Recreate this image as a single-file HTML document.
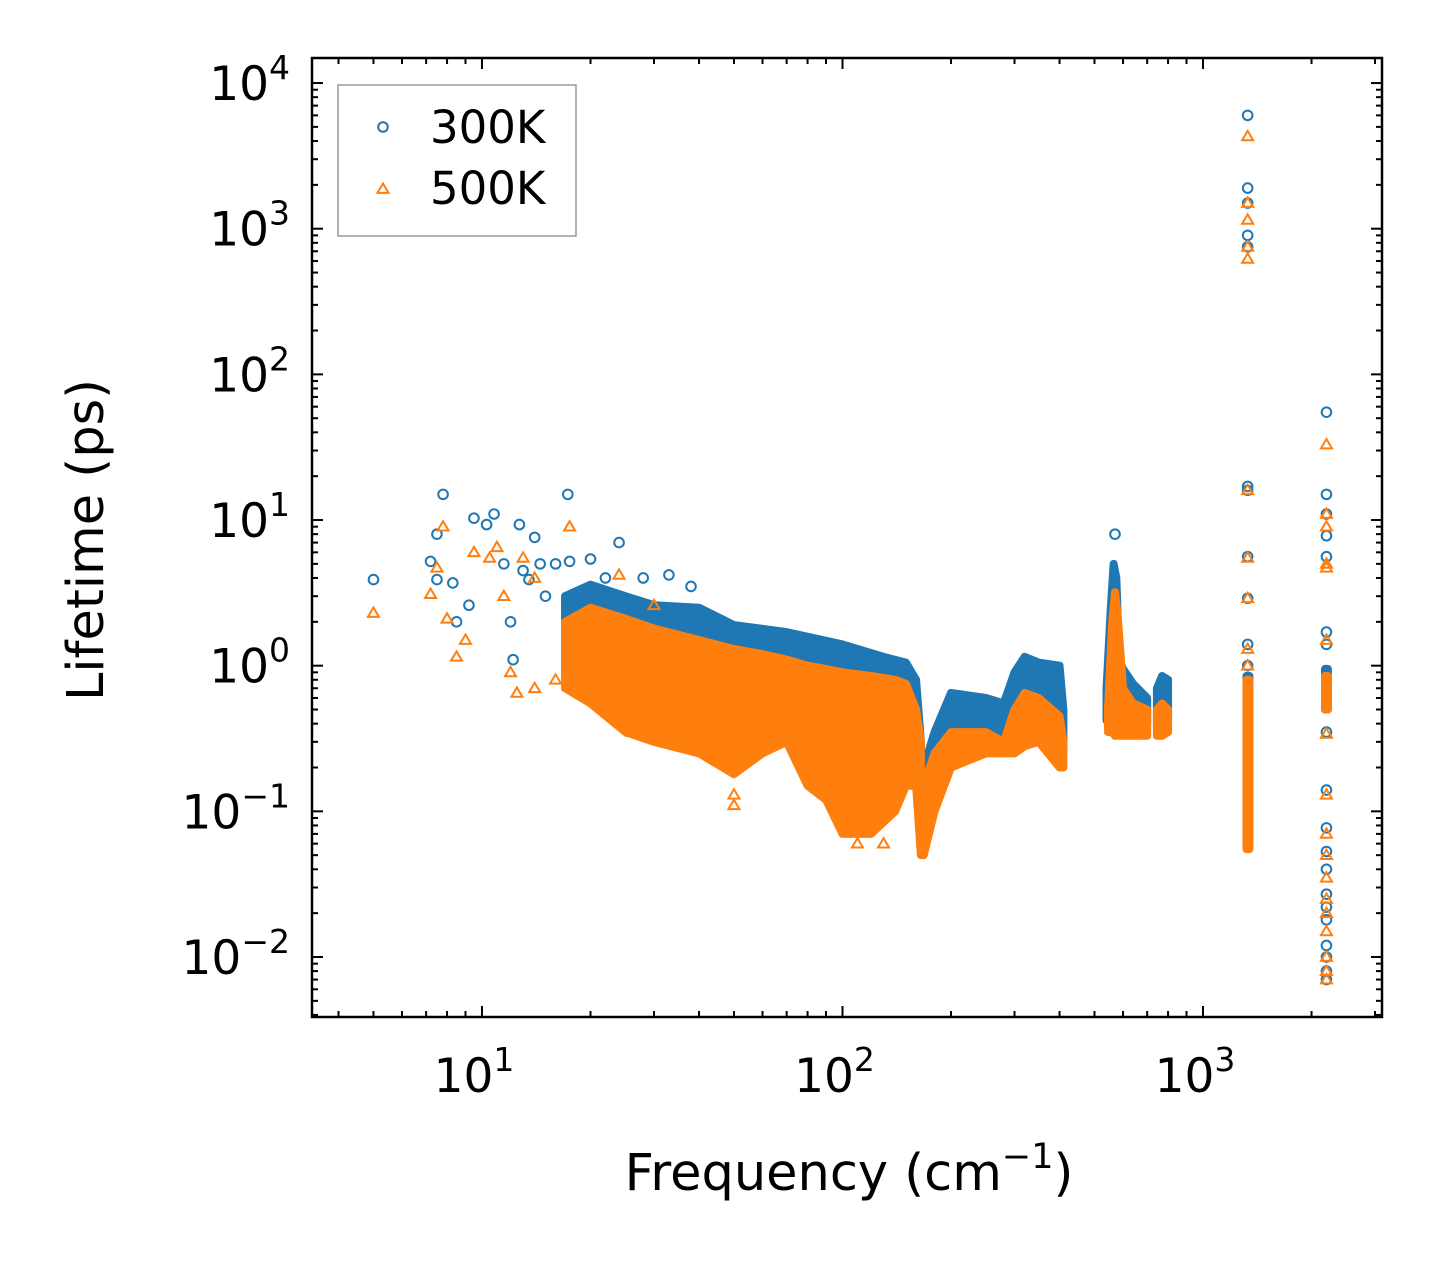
<!DOCTYPE html>
<html><head><meta charset="utf-8"><style>
html,body{margin:0;padding:0;background:#fff;}
svg{display:block;font-family:"DejaVu Sans","Liberation Sans",sans-serif;}
</style></head><body>
<svg id="chart" width="1442" height="1266" xmlns="http://www.w3.org/2000/svg"></svg>
<script>
// ---- data ----
const xTickValues = [10, 100, 1000];
const yTickValues = [1e-2, 1e-1, 1, 10, 100, 1000, 10000];
const xTickExps = ["1", "2", "3"];
const yTickExps = ["\u22122", "\u22121", "0", "1", "2", "3", "4"];

// dense clouds: [freqs, upper, lower]
const blueBandFreq1 = [17, 20, 25, 30, 40, 50, 70, 100, 130, 150, 160, 165];
const blueBandUp1 = [3, 3.6, 3.0, 2.6, 2.5, 1.9, 1.7, 1.4, 1.15, 1.05, 0.8, 0.3];
const blueBandLo1 = [0.9, 0.8, 0.6, 0.45, 0.35, 0.25, 0.3, 0.12, 0.1, 0.15, 0.15, 0.08];
const blueBandFreq2 = [168, 180, 200, 250, 280, 300, 320, 350, 400, 410];
const blueBandUp2 = [0.2, 0.35, 0.65, 0.6, 0.55, 0.9, 1.15, 1.05, 1.0, 0.5];
const blueBandLo2 = [0.08, 0.12, 0.22, 0.27, 0.27, 0.3, 0.35, 0.35, 0.25, 0.25];
const blueBandFreq3 = [540, 555, 565, 575, 585, 600, 640, 700];
const blueBandUp3 = [0.7, 2.5, 5, 4, 1.1, 0.95, 0.75, 0.6];
const blueBandLo3 = [0.42, 0.45, 0.45, 0.42, 0.42, 0.4, 0.4, 0.4];
const blueBandFreq4 = [745, 770, 800];
const blueBandUp4 = [0.7, 0.85, 0.8];
const blueBandLo4 = [0.38, 0.38, 0.4];
const blueBandFreq5 = [1320, 1345];
const blueBandUp5 = [0.85, 0.85];
const blueBandLo5 = [0.06, 0.06];
const blueBandFreq6 = [2180, 2220];
const blueBandUp6 = [0.95, 0.95];
const blueBandLo6 = [0.5, 0.5];

const orangeBandFreq1 = [17, 20, 25, 30, 40, 50, 60, 70, 80, 90, 100, 120, 140, 150, 160, 165];
const orangeBandUp1 = [2.0, 2.5, 2.1, 1.8, 1.5, 1.3, 1.2, 1.1, 1.0, 0.95, 0.9, 0.85, 0.8, 0.75, 0.5, 0.3];
const orangeBandLo1 = [0.7, 0.55, 0.35, 0.3, 0.25, 0.18, 0.25, 0.3, 0.15, 0.12, 0.07, 0.07, 0.1, 0.15, 0.15, 0.05];
const orangeBandFreq2 = [168, 180, 200, 250, 280, 300, 320, 350, 400, 410];
const orangeBandUp2 = [0.15, 0.25, 0.35, 0.35, 0.3, 0.5, 0.65, 0.6, 0.45, 0.3];
const orangeBandLo2 = [0.05, 0.1, 0.2, 0.25, 0.25, 0.25, 0.28, 0.3, 0.2, 0.2];
const orangeBandFreq3 = [545, 560, 570, 580, 600, 640, 700];
const orangeBandUp3 = [0.5, 2, 3.2, 2.2, 0.7, 0.55, 0.5];
const orangeBandLo3 = [0.35, 0.35, 0.33, 0.33, 0.33, 0.33, 0.33];
const orangeBandFreq4 = [745, 770, 800];
const orangeBandUp4 = [0.5, 0.55, 0.5];
const orangeBandLo4 = [0.33, 0.33, 0.35];
const orangeBandFreq5 = [1320, 1345];
const orangeBandUp5 = [0.8, 0.8];
const orangeBandLo5 = [0.055, 0.055];
const orangeBandFreq6 = [2180, 2220];
const orangeBandUp6 = [0.85, 0.85];
const orangeBandLo6 = [0.5, 0.5];

// discrete scatter points
const blueFreq = [5, 7.2, 7.5, 7.8, 8.3, 8.5, 9.2, 9.5, 10.3, 10.8, 11.5, 12, 12.2, 12.7, 13, 13.5, 14, 14.5, 15, 16, 17.3, 17.5, 20, 24, 7.5, 22, 28, 33, 38,
  1330, 1330, 1330, 1330, 1330, 1330, 1330, 1330, 1330, 1330, 1330,
  2200, 2200, 2200, 2200, 2200, 2200, 2200, 2200, 2200, 2200, 2200, 2200, 2200, 2200, 2200, 2200, 2200, 2200, 2200, 570];
const blueLife = [3.9, 5.2, 8, 15, 3.7, 2, 2.6, 10.3, 9.3, 11, 5, 2, 1.1, 9.3, 4.5, 3.9, 7.6, 5, 3, 5, 15, 5.2, 5.4, 7, 3.9, 4, 4, 4.2, 3.5,
  6000, 1900, 1500, 900, 750, 17, 16, 5.6, 2.9, 1.4, 1.0,
  55, 15, 11, 7.8, 5.6, 1.7, 1.4, 0.35, 0.14, 0.077, 0.053, 0.04, 0.027, 0.022, 0.018, 0.012, 0.01, 0.008, 0.007, 8];
const orangeFreq = [5, 7.2, 7.5, 7.8, 8, 8.5, 9, 9.5, 10.5, 11, 11.5, 12, 12.5, 13, 14, 14, 16, 17.5, 21, 24, 26, 30, 50, 50, 110, 130,
  1330, 1330, 1330, 1330, 1330, 1330, 1330, 1330, 1330, 1330,
  2200, 2200, 2200, 2200, 2200, 2200, 2200, 2200, 2200, 2200, 2200, 2200, 2200, 2200, 2200, 2200, 2200];
const orangeLife = [2.3, 3.1, 4.7, 9, 2.1, 1.15, 1.5, 6, 5.5, 6.5, 3, 0.9, 0.65, 5.5, 4, 0.7, 0.8, 9, 0.6, 4.2, 0.35, 2.6, 0.13, 0.11, 0.06, 0.06,
  4300, 1500, 1150, 750, 620, 16, 5.5, 2.9, 1.3, 1.0,
  33, 11, 9, 5, 4.7, 1.5, 0.34, 0.13, 0.07, 0.05, 0.035, 0.025, 0.02, 0.015, 0.01, 0.008, 0.007];

// ---- axes ----
const L = 312, R = 1382, T = 58, B = 1017;
const xmin = 0.5285, xmax = 3.4965, ymin = -2.412, ymax = 4.172;
const X = v => L + (Math.log10(v) - xmin) / (xmax - xmin) * (R - L);
const Y = v => B - (Math.log10(v) - ymin) / (ymax - ymin) * (B - T);
const NS = "http://www.w3.org/2000/svg";
const svg = document.getElementById("chart");
function mk(tag, attrs, parent) {
  const e = document.createElementNS(NS, tag);
  for (const k in attrs) e.setAttribute(k, attrs[k]);
  (parent || svg).appendChild(e);
  return e;
}
const BLUE = "#1f77b4", ORANGE = "#ff7f0e";

function band(f, up, lo, color, name) {
  let pts = [];
  for (let i = 0; i < f.length; i++) pts.push(X(f[i]) + "," + Y(up[i]));
  for (let i = f.length - 1; i >= 0; i--) pts.push(X(f[i]) + "," + Y(lo[i]));
  const p = mk("polygon", {points: pts.join(" "), fill: color, stroke: color, "stroke-width": 8, "stroke-linejoin": "round"});
  
  
}
function circle(x, y, parent) {
  const c = mk("circle", {cx: x, cy: y, r: 4.8, fill: "none", stroke: BLUE, "stroke-width": 2}, parent);
  
  
}
function tri(x, y, parent) {
  const s = 5.5;
  const t = mk("polygon", {points: `${x},${y - s} ${x - s},${y + s * 0.7} ${x + s},${y + s * 0.7}`, fill: "none", stroke: ORANGE, "stroke-width": 2}, parent);
  
  
}

band(blueBandFreq1, blueBandUp1, blueBandLo1, BLUE, "cloud-300k-low");
band(blueBandFreq2, blueBandUp2, blueBandLo2, BLUE, "cloud-300k-mid");
band(blueBandFreq3, blueBandUp3, blueBandLo3, BLUE, "cloud-300k-peak");
band(blueBandFreq4, blueBandUp4, blueBandLo4, BLUE, "cloud-300k-800");
band(blueBandFreq5, blueBandUp5, blueBandLo5, BLUE, "column-300k-1330");
band(blueBandFreq6, blueBandUp6, blueBandLo6, BLUE, "column-300k-2200");
for (let i = 0; i < blueFreq.length; i++) circle(X(blueFreq[i]), Y(blueLife[i]));
band(orangeBandFreq1, orangeBandUp1, orangeBandLo1, ORANGE, "cloud-500k-low");
band(orangeBandFreq2, orangeBandUp2, orangeBandLo2, ORANGE, "cloud-500k-mid");
band(orangeBandFreq3, orangeBandUp3, orangeBandLo3, ORANGE, "cloud-500k-peak");
band(orangeBandFreq4, orangeBandUp4, orangeBandLo4, ORANGE, "cloud-500k-800");
band(orangeBandFreq5, orangeBandUp5, orangeBandLo5, ORANGE, "column-500k-1330");
band(orangeBandFreq6, orangeBandUp6, orangeBandLo6, ORANGE, "column-500k-2200");
for (let i = 0; i < orangeFreq.length; i++) tri(X(orangeFreq[i]), Y(orangeLife[i]));

// frame
const frame = mk("rect", {x: L, y: T, width: R - L, height: B - T, fill: "none", stroke: "#000", "stroke-width": 2.5});



// ticks
const tickG = mk("g", {stroke: "#000", "stroke-width": 2});


for (let d = 0; d <= 3; d++) for (let m = 1; m <= 9; m++) {
  const v = m * Math.pow(10, d);
  const lx = Math.log10(v);
  if (lx < xmin || lx > xmax) continue;
  const x = X(v), len = m === 1 ? 11 : 6;
  mk("line", {x1: x, y1: B, x2: x, y2: B - len}, tickG);
  mk("line", {x1: x, y1: T, x2: x, y2: T + len}, tickG);
}
for (let d = -3; d <= 4; d++) for (let m = 1; m <= 9; m++) {
  const v = m * Math.pow(10, d);
  const ly = Math.log10(v);
  if (ly < ymin || ly > ymax) continue;
  const y = Y(v), len = m === 1 ? 11 : 6;
  mk("line", {x1: L, y1: y, x2: L + len, y2: y}, tickG);
  mk("line", {x1: R, y1: y, x2: R - len, y2: y}, tickG);
}
// tick labels
xTickValues.forEach((v, i) => {
  const t = mk("text", {x: X(v) - 8, y: 1092, "font-size": 47, "text-anchor": "middle"});
  
  
  t.innerHTML = `10<tspan dy="-21" font-size="33">${xTickExps[i]}</tspan>`;
});
yTickValues.forEach((v, i) => {
  const t = mk("text", {x: 290, y: Y(v) + 17, "font-size": 47, "text-anchor": "end"});
  
  
  t.innerHTML = `10<tspan dy="-21" font-size="33">${yTickExps[i]}</tspan>`;
});
// axis titles
const xt = mk("text", {x: 849, y: 1190, "font-size": 51, "text-anchor": "middle"});


xt.innerHTML = 'Frequency (cm<tspan dy="-22" font-size="35">\u22121</tspan><tspan dy="22">)</tspan>';
const yt = mk("text", {x: 0, y: 0, "font-size": 51, "text-anchor": "middle", transform: "translate(103,540) rotate(-90)"});


yt.textContent = "Lifetime (ps)";

// legend
const lg = mk("g", {});


mk("rect", {x: 338, y: 85, width: 238, height: 151, fill: "#fff", stroke: "#999", "stroke-width": 1.5}, lg);
circle(383, 127, lg);
tri(383, 189, lg);
const l1 = mk("text", {x: 430, y: 143, "font-size": 45}, lg);


l1.textContent = "300K";
const l2 = mk("text", {x: 430, y: 204, "font-size": 45}, lg);


l2.textContent = "500K";
</script>
</body></html>
